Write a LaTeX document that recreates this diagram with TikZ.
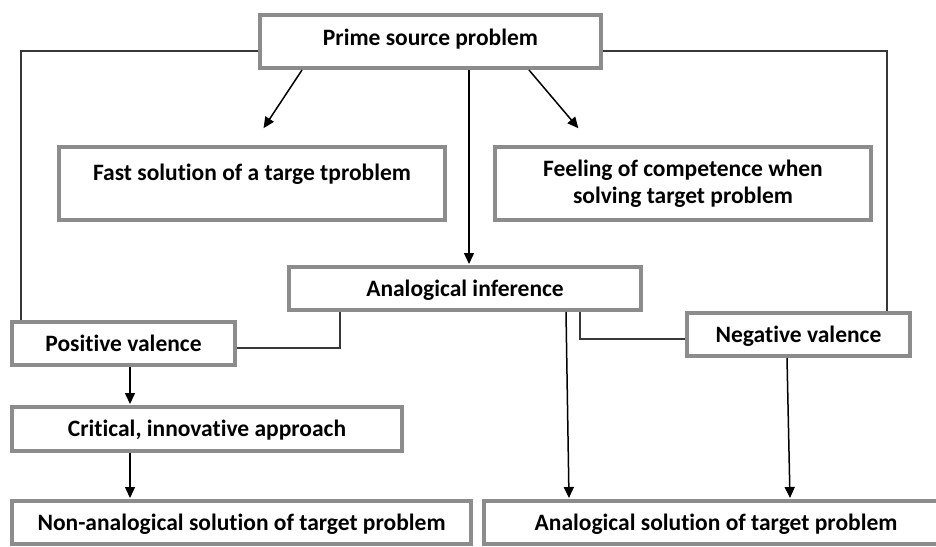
\documentclass[tikz,border=0pt]{standalone}
\usepackage{fontspec}
\setmainfont{Carlito}[Ligatures=NoCommon]
\usetikzlibrary{arrows.meta}
\definecolor{boxgray}{RGB}{140,140,140}
\definecolor{linegray}{RGB}{55,55,55}
\begin{document}
\begin{tikzpicture}[x=1pt,y=-1pt,
  box/.style={draw=boxgray, line width=4pt, fill=white, inner sep=0pt,
    font=\bfseries\fontsize{23.5}{27}\selectfont, align=center},
  tx/.style={text height=18pt, text depth=3pt},
  arr/.style={-{Triangle[length=11pt,width=10pt]}, line width=1.5pt, black, shorten >=1pt},
  link/.style={line width=1.4pt, linegray}]
\useasboundingbox (0,0) rectangle (936,546);
\clip (0,0) rectangle (936,546);
\fill[white] (0,0) rectangle (936,546);

\node[box, text height=14pt, text depth=7pt, minimum width=341pt, minimum height=53pt] (prime) at (430.5,41.5) {Prime source problem};
\node[box, text height=14pt, text depth=21pt, minimum width=386pt, minimum height=73pt] (fast) at (252,183.5) {Fast solution of a targe tproblem};
\node[box, minimum width=376pt, minimum height=73pt] (feel) at (683,183.5) {Feeling of competence when\\solving target problem};
\node[box, tx, minimum width=352pt, minimum height=43pt] (anal) at (465,288.5) {Analogical inference};
\node[box, tx, minimum width=223pt, minimum height=43pt] (pos) at (123.5,343.5) {Positive valence};
\node[box, tx, minimum width=223pt, minimum height=43pt] (neg) at (798.5,334.5) {Negative valence};
\node[box, tx, minimum width=390pt, minimum height=44pt] (crit) at (207,429) {Critical, innovative approach};
\node[box, tx, minimum width=459pt, minimum height=43pt] (non) at (241.5,522.5) {Non-analogical solution of target problem};
\node[box, tx, minimum width=464pt, minimum height=43pt] (asol) at (716,522.5) {Analogical solution of target problem};

% arrows from prime source
\draw[arr] ([xshift=-128.5pt]prime.south) -- ([xshift=11pt,yshift=16pt]fast.north);
\draw[arr] ([xshift=98.5pt]prime.south) -- ([xshift=-104pt,yshift=16pt]feel.north);
\draw[arr] ([xshift=38.5pt]prime.south) -- ([xshift=4pt]anal.north);

% long side links
\draw[link] ([yshift=-9.5pt]prime.west) -| ([xshift=-102.5pt]pos.north);
\draw[link] ([yshift=-9.5pt]prime.east) -| ([xshift=88.5pt]neg.north);

% valence links to analogical inference
\draw[link] ([yshift=-4.5pt]pos.east) -| ([xshift=-125pt]anal.south);
\draw[link] ([yshift=-4.5pt]neg.west) -| ([xshift=115pt]anal.south);

% downward arrows
\draw[arr] ([xshift=101pt]anal.south) -- ([xshift=-147pt]asol.north);
\draw[arr] ([xshift=-11.5pt]neg.south) -- ([xshift=74pt]asol.north);
\draw[arr] ([xshift=6.5pt]pos.south) -- ([xshift=-77pt]crit.north);
\draw[arr] ([xshift=-77pt]crit.south) -- ([xshift=-111.5pt]non.north);
\end{tikzpicture}
\end{document}
